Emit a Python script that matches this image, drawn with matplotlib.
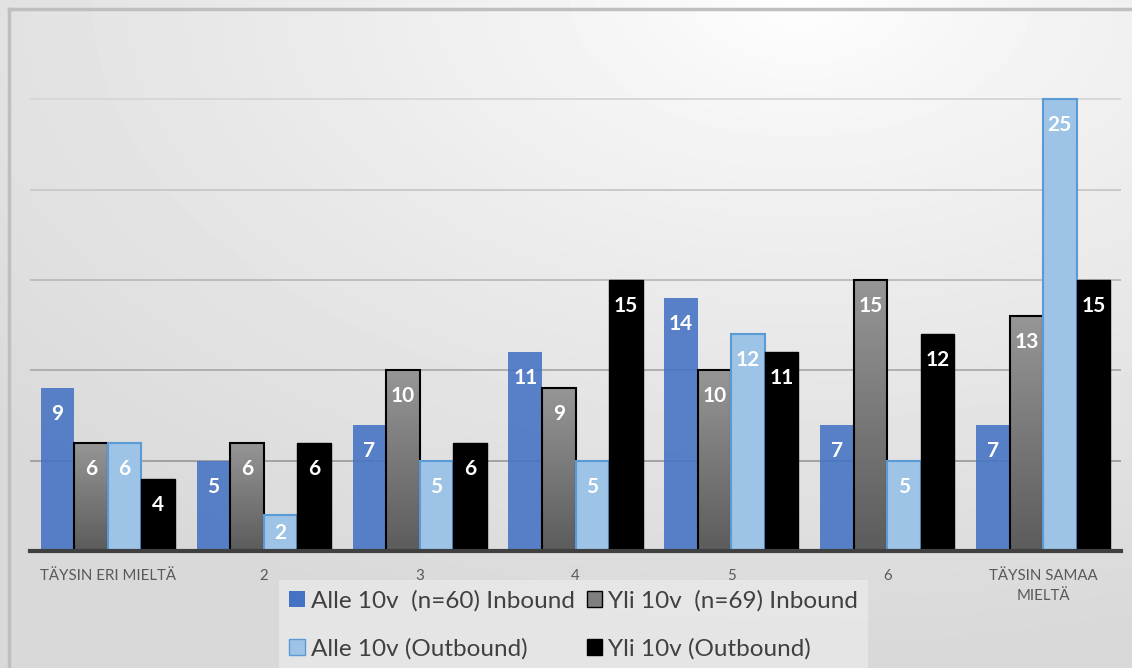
import numpy as np
import matplotlib.pyplot as plt
from matplotlib.patches import Patch
from matplotlib.lines import Line2D
from matplotlib.colors import LinearSegmentedColormap

plt.rcParams['font.family'] = ['Lato', 'DejaVu Sans']

# data
categories = ['TÄYSIN ERI MIELTÄ', '2', '3', '4', '5', '6', 'TÄYSIN SAMAA\nMIELTÄ']
alle_in = [9, 5, 7, 11, 14, 7, 7]
yli_in = [6, 6, 10, 9, 10, 15, 13]
alle_out = [6, 2, 5, 5, 12, 5, 25]
yli_out = [4, 6, 6, 15, 11, 12, 15]
series_labels = ['Alle 10v  (n=60) Inbound', 'Yli 10v  (n=69) Inbound',
                 'Alle 10v (Outbound)', 'Yli 10v (Outbound)']

W, H = 1132, 668
fig = plt.figure(figsize=(W / 100, H / 100), dpi=100)

# background gradient (white top-right, grey towards the bottom)
bg = fig.add_axes([0, 0, 1, 1], zorder=-10)
yy, xx = np.mgrid[0:H, 0:W]
r = np.sqrt(((xx - 800) / 1100.0) ** 2 + (yy / 650.0) ** 2)
shade = 1 - 0.15 * np.clip(r, 0, 1) ** 0.8
bg.imshow(shade, cmap='gray', vmin=0, vmax=1, aspect='auto', extent=[0, 1, 0, 1], origin='upper')
bg.axis('off')

# chart border (top and left)
fig.add_artist(Line2D([9 / W, 9 / W], [0, 1 - 9 / H], color='#BFBFBF', lw=2.5, transform=fig.transFigure))
fig.add_artist(Line2D([9 / W, 1], [1 - 9 / H, 1 - 9 / H], color='#BFBFBF', lw=2.5, transform=fig.transFigure))

ax_h = 542
ax = fig.add_axes([30 / W, 117 / H, 1091 / W, ax_h / H])
ax.patch.set_alpha(0)
ymax = 30

x = np.arange(len(categories))
w = 0.215

# gridlines
for v in range(5, ymax, 5):
    g = 0.56 + 0.28 * (v / 25.0)
    ax.axhline(v, color=(g, g, g), lw=1.3, zorder=1)

b1 = ax.bar(x - 1.5 * w, alle_in, w, color='#4472C4', alpha=0.88, zorder=2)
b2 = ax.bar(x - 0.5 * w, yli_in, w, color='none', edgecolor='black', lw=1.5, zorder=3)
b3 = ax.bar(x + 0.5 * w, alle_out, w, color='#9DC3E6', edgecolor='#5B9BD5', lw=1.5, zorder=3)
b4 = ax.bar(x + 1.5 * w, yli_out, w, color='black', edgecolor='black', lw=1, zorder=3)

# grey gradient fill for the second series
gcmap = LinearSegmentedColormap.from_list('greygrad', ['#5c5c5c', '#969696'])
grad = np.linspace(0, 1, 256).reshape(-1, 1)
for rect in b2:
    x0 = rect.get_x()
    im = ax.imshow(grad, cmap=gcmap, extent=[x0, x0 + rect.get_width(), 0, rect.get_height()],
                   origin='lower', aspect='auto', zorder=2.5)
    im.set_clip_path(rect)

ax.set_xlim(-0.5, len(categories) - 0.5)
ax.set_ylim(0, ymax)

# data labels
px_per_unit = ax_h / ymax
for cont in [b1, b2, b3, b4]:
    for rect in cont:
        v = rect.get_height()
        off = min(26, v * px_per_unit / 2)
        ax.annotate('%d' % v, (rect.get_x() + rect.get_width() / 2, v),
                    xytext=(0, -off * 0.72), textcoords='offset points',
                    ha='center', va='center', color='white', fontweight='bold',
                    fontsize=15, zorder=6)

ax.axhline(0, color='#404040', lw=3, zorder=5, clip_on=False)

for s in ax.spines.values():
    s.set_visible(False)
ax.set_yticks([])
ax.set_xticks(x)
ax.set_xticklabels(categories, fontsize=10.8, color='#595959', linespacing=1.5)
ax.tick_params(axis='x', length=0, pad=13)

handles = [Patch(facecolor='#4472C4', edgecolor='none'),
           Patch(facecolor='#9DC3E6', edgecolor='#5B9BD5'),
           Patch(facecolor='#7f7f7f', edgecolor='black'),
           Patch(facecolor='black', edgecolor='black')]
leg_labels = [series_labels[0], series_labels[2], series_labels[1], series_labels[3]]
leg = fig.legend(handles=handles, labels=leg_labels, ncol=2, loc='upper left',
                 bbox_to_anchor=(279 / W, 1 - 580 / H), frameon=True, facecolor='#EEEEEE',
                 edgecolor='none', framealpha=0.6, fancybox=False, fontsize=17.5,
                 handlelength=0.65, handleheight=0.65, handletextpad=0.25,
                 columnspacing=0.5, labelspacing=1.1, borderaxespad=0, borderpad=0.4)
for t in leg.get_texts():
    t.set_color('#404040')

fig.savefig('out.png', dpi=100)
